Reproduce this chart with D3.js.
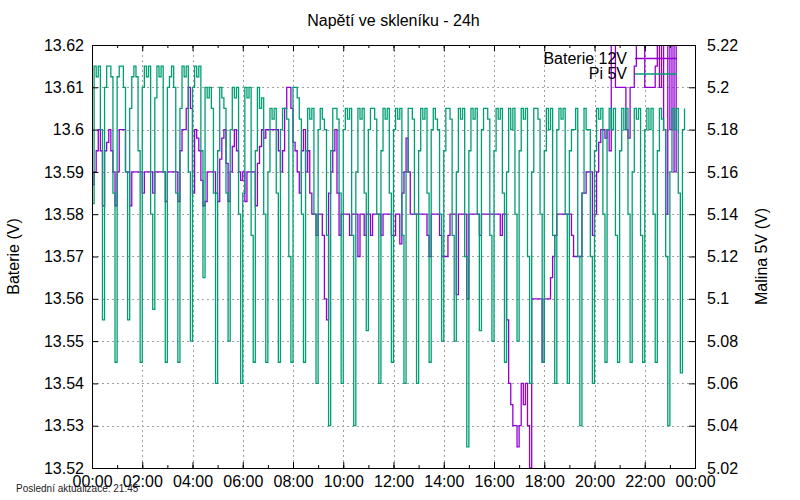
<!DOCTYPE html>
<html>
<head>
<meta charset="utf-8">
<script src="https://cdn.jsdelivr.net/npm/d3@7"></script>
<style>
  body { margin: 0; background: #fff; }
  text { font-family: "Liberation Sans", Arial, sans-serif; }
</style>
</head>
<body>
<div id="main-container"></div>
<script>
// DATA (one sample every 5 minutes from 00:00)
const title = "Napětí ve skleníku - 24h";
const footNote = "Poslední aktualizace: 21:45";
const seriesNames = ["Baterie 12V", "Pi 5V"];
const sampleMinutes = 5;

const leftTicks = [13.52, 13.53, 13.54, 13.55, 13.56, 13.57, 13.58, 13.59, 13.6, 13.61, 13.62];
const rightTicks = [5.02, 5.04, 5.06, 5.08, 5.1, 5.12, 5.14, 5.16, 5.18, 5.2, 5.22];

const baterie12V = [
  13.587, 13.59, 13.595, 13.6, 13.595, 13.582, 13.595, 13.597, 13.6, 13.595, 13.59, 13.582,   // 00
  13.59, 13.6, 13.6, 13.6, 13.59, 13.59, 13.582, 13.59, 13.59, 13.59, 13.59, 13.59,           // 01
  13.585, 13.59, 13.59, 13.59, 13.59, 13.585, 13.59, 13.59, 13.59, 13.59, 13.59, 13.583,      // 02
  13.59, 13.59, 13.59, 13.59, 13.59, 13.583, 13.595, 13.6, 13.6, 13.605, 13.61, 13.605,       // 03
  13.585, 13.6, 13.598, 13.595, 13.588, 13.582, 13.583, 13.59, 13.59, 13.59, 13.59, 13.585,   // 04
  13.583, 13.593, 13.598, 13.6, 13.592, 13.583, 13.59, 13.596, 13.6, 13.595, 13.59, 13.588,   // 05
  13.59, 13.583, 13.59, 13.59, 13.59, 13.59, 13.582, 13.592, 13.596, 13.6, 13.598, 13.6,      // 06
  13.6, 13.6, 13.6, 13.6, 13.6, 13.595, 13.59, 13.595, 13.605, 13.61, 13.61, 13.605,          // 07
  13.597, 13.595, 13.59, 13.585, 13.595, 13.6, 13.59, 13.595, 13.585, 13.58, 13.58, 13.575,   // 08
  13.58, 13.58, 13.575, 13.56, 13.555, 13.585, 13.59, 13.595, 13.6, 13.585, 13.575, 13.58,    // 09
  13.58, 13.58, 13.58, 13.575, 13.58, 13.58, 13.58, 13.57, 13.58, 13.58, 13.575, 13.58,       // 10
  13.58, 13.575, 13.58, 13.58, 13.58, 13.58, 13.575, 13.58, 13.58, 13.58, 13.58, 13.575,      // 11
  13.575, 13.58, 13.58, 13.573, 13.585, 13.59, 13.598, 13.59, 13.58, 13.58, 13.58, 13.58,     // 12
  13.58, 13.58, 13.58, 13.58, 13.575, 13.57, 13.58, 13.58, 13.58, 13.58, 13.575, 13.57,       // 13
  13.57, 13.57, 13.575, 13.58, 13.58, 13.58, 13.561, 13.58, 13.58, 13.58, 13.58, 13.56,       // 14
  13.58, 13.58, 13.58, 13.58, 13.58, 13.575, 13.58, 13.58, 13.58, 13.58, 13.58, 13.58,        // 15
  13.58, 13.58, 13.58, 13.575, 13.58, 13.58, 13.555, 13.54, 13.535, 13.53, 13.53, 13.525,     // 16
  13.53, 13.54, 13.535, 13.54, 13.53, 13.52, 13.56, 13.56, 13.56, 13.56, 13.56, 13.545,       // 17
  13.56, 13.56, 13.56, 13.565, 13.57, 13.575, 13.58, 13.58, 13.58, 13.58, 13.58, 13.58,       // 18
  13.58, 13.575, 13.57, 13.57, 13.57, 13.57, 13.585, 13.585, 13.59, 13.59, 13.59, 13.575,     // 19
  13.58, 13.59, 13.597, 13.6, 13.6, 13.598, 13.6, 13.595, 13.625, 13.63, 13.61, 13.61,        // 20
  13.61, 13.61, 13.61, 13.6, 13.598, 13.61, 13.61, 13.615, 13.625, 13.63, 13.625, 13.62,      // 21
  13.61, 13.61, 13.61, 13.61, 13.61, 13.615, 13.62, 13.61, 13.625, 13.6, 13.58, 13.625,       // 22
  13.6, 13.625, 13.59, 13.625, 13.63, 13.625, 13.63, 13.625                                   // 23
];

const pi5V = [
  5.145, 5.21, 5.205, 5.21, 5.18, 5.09, 5.2, 5.21, 5.21, 5.205, 5.15, 5.07,      // 00
  5.205, 5.21, 5.21, 5.2, 5.16, 5.09, 5.19, 5.205, 5.21, 5.205, 5.17, 5.07,      // 01
  5.2, 5.21, 5.205, 5.21, 5.14, 5.095, 5.195, 5.21, 5.205, 5.21, 5.16, 5.07,     // 02
  5.2, 5.205, 5.21, 5.2, 5.15, 5.07, 5.19, 5.21, 5.205, 5.21, 5.16, 5.08,        // 03
  5.2, 5.21, 5.205, 5.21, 5.17, 5.11, 5.2, 5.195, 5.2, 5.19, 5.15, 5.06,         // 04
  5.17, 5.2, 5.195, 5.19, 5.15, 5.08, 5.18, 5.2, 5.195, 5.2, 5.14, 5.06,         // 05
  5.15, 5.2, 5.195, 5.2, 5.13, 5.07, 5.17, 5.2, 5.19, 5.195, 5.14, 5.07,         // 06
  5.16, 5.19, 5.185, 5.19, 5.15, 5.07, 5.18, 5.19, 5.19, 5.185, 5.12, 5.07,      // 07
  5.2, 5.2, 5.195, 5.185, 5.14, 5.07, 5.17, 5.19, 5.185, 5.19, 5.14, 5.06,       // 08
  5.18, 5.19, 5.185, 5.18, 5.13, 5.04, 5.17, 5.19, 5.19, 5.185, 5.15, 5.06,      // 09
  5.18, 5.19, 5.185, 5.19, 5.13, 5.04, 5.16, 5.19, 5.185, 5.19, 5.15, 5.085,     // 10
  5.18, 5.19, 5.19, 5.185, 5.14, 5.06, 5.17, 5.19, 5.185, 5.19, 5.15, 5.07,      // 11
  5.18, 5.19, 5.185, 5.19, 5.13, 5.06, 5.16, 5.19, 5.19, 5.185, 5.14, 5.06,      // 12
  5.17, 5.19, 5.185, 5.19, 5.15, 5.07, 5.18, 5.19, 5.185, 5.18, 5.14, 5.08,      // 13
  5.17, 5.19, 5.19, 5.185, 5.13, 5.08, 5.16, 5.19, 5.185, 5.19, 5.12, 5.03,      // 14
  5.17, 5.19, 5.185, 5.19, 5.14, 5.085, 5.18, 5.19, 5.19, 5.185, 5.13, 5.08,     // 15
  5.17, 5.19, 5.185, 5.19, 5.15, 5.07, 5.16, 5.19, 5.18, 5.19, 5.14, 5.08,       // 16
  5.17, 5.19, 5.185, 5.19, 5.12, 5.06, 5.16, 5.19, 5.19, 5.185, 5.14, 5.07,      // 17
  5.17, 5.19, 5.18, 5.19, 5.13, 5.06, 5.18, 5.19, 5.185, 5.19, 5.14, 5.06,       // 18
  5.17, 5.18, 5.18, 5.19, 5.12, 5.04, 5.15, 5.19, 5.18, 5.18, 5.12, 5.06,        // 19
  5.17, 5.19, 5.185, 5.19, 5.14, 5.07, 5.18, 5.19, 5.18, 5.19, 5.13, 5.07,       // 20
  5.17, 5.19, 5.18, 5.19, 5.14, 5.07, 5.16, 5.19, 5.185, 5.19, 5.13, 5.07,       // 21
  5.18, 5.19, 5.18, 5.19, 5.14, 5.07, 5.17, 5.19, 5.185, 5.18, 5.12, 5.04,       // 22
  5.16, 5.19, 5.18, 5.19, 5.15, 5.065, 5.18, 5.19                                // 23
];

// CONSTANTS
const margin = {top: 45, right: 105, bottom: 32, left: 92},
    width = 800 - margin.left - margin.right,
    height = 500 - margin.top - margin.bottom;
const colours = ["#9400d3", "#009e73"];

const day0 = new Date(2024, 0, 1, 0, 0);
const day1 = new Date(2024, 0, 2, 0, 0);
const timeAt = (i) => d3.timeMinute.offset(day0, i * sampleMinutes);
const fmtNum = (d) => String(+d.toFixed(3));

// DRAWING SETUP
const root = d3.select("#main-container")
    .append("svg")
        .attr("width", 800)
        .attr("height", 500);

const svg = root.append("g")
    .attr("transform", `translate(${margin.left}, ${margin.top})`);

let xAxis = d3.scaleTime().domain([day0, day1]).range([0, width]);
let yLeft = d3.scaleLinear().domain([13.52, 13.62]).range([height, 0]);
let yRight = d3.scaleLinear().domain([5.02, 5.22]).range([height, 0]);

// grid
const grid = svg.append("g")
    .attr("stroke", "#a0a0a0")
    .attr("stroke-width", 1)
    .attr("stroke-dasharray", "2,3");
grid.selectAll(".gx")
    .data(xAxis.ticks(d3.timeHour.every(2)))
    .enter().append("line")
    .attr("x1", d => Math.round(xAxis(d)) + 0.5).attr("x2", d => Math.round(xAxis(d)) + 0.5)
    .attr("y1", 0).attr("y2", height);
grid.selectAll(".gy")
    .data(leftTicks)
    .enter().append("line")
    .attr("x1", 0).attr("x2", width)
    .attr("y1", d => Math.round(yLeft(d)) + 0.5).attr("y2", d => Math.round(yLeft(d)) + 0.5);

// lines
svg.append("clipPath").attr("id", "plot-clip")
    .append("rect").attr("width", width).attr("height", height);

const plot = svg.append("g").attr("clip-path", "url(#plot-clip)");

const lineLeft = d3.line()
    .x((d, i) => xAxis(timeAt(i)))
    .y(d => yLeft(d))
    .curve(d3.curveStepAfter);
const lineRight = d3.line()
    .x((d, i) => xAxis(timeAt(i)))
    .y(d => yRight(d))
    .curve(d3.curveStepAfter);

plot.append("path")
    .datum(baterie12V)
    .attr("fill", "none")
    .attr("stroke", colours[0])
    .attr("stroke-width", 1.3)
    .attr("d", lineLeft);
plot.append("path")
    .datum(pi5V)
    .attr("fill", "none")
    .attr("stroke", colours[1])
    .attr("stroke-width", 1.3)
    .attr("d", lineRight);

// axes (ticks point inwards like gnuplot)
const styleAxis = (g) => {
    g.select(".domain").remove();
    g.selectAll("line").attr("stroke", "#000");
    g.selectAll("text").attr("fill", "#000").style("font-size", "16px")
        .style("font-family", "'Liberation Sans', Arial, sans-serif");
};

svg.append("g")
    .call(d3.axisLeft(yLeft).tickValues(leftTicks).tickFormat(fmtNum).tickSize(-6).tickPadding(8))
    .call(styleAxis);

svg.append("g")
    .attr("transform", `translate(${width}, 0)`)
    .call(d3.axisRight(yRight).tickValues(rightTicks).tickFormat(fmtNum).tickSize(-6).tickPadding(12))
    .call(styleAxis);

svg.append("g")
    .attr("transform", `translate(0, ${height})`)
    .call(d3.axisBottom(xAxis).ticks(d3.timeHour.every(2)).tickFormat(d3.timeFormat("%H:%M")).tickSize(-6).tickPadding(8))
    .call(styleAxis);

svg.append("g")
    .attr("transform", `translate(0, ${height})`)
    .call(d3.axisBottom(xAxis).ticks(d3.timeHour.every(1)).tickFormat("").tickSize(-3))
    .call(styleAxis);

svg.append("g")
    .call(d3.axisTop(xAxis).ticks(d3.timeHour.every(2)).tickFormat("").tickSize(-6))
    .call(styleAxis);

svg.append("g")
    .call(d3.axisTop(xAxis).ticks(d3.timeHour.every(1)).tickFormat("").tickSize(-3))
    .call(styleAxis);

// border
svg.append("rect")
    .attr("x", 0.5).attr("y", 0.5)
    .attr("width", width).attr("height", height)
    .attr("fill", "none")
    .attr("stroke", "#000")
    .attr("stroke-width", 1);

// legend
const legend = svg.append("g");
seriesNames.forEach((name, i) => {
    const ly = 13 + i * 15.5;
    legend.append("text")
        .attr("x", 535).attr("y", ly)
        .attr("dy", "0.35em")
        .attr("text-anchor", "end")
        .style("font-size", "16px")
        .text(name);
    legend.append("line")
        .attr("x1", 543).attr("x2", 585)
        .attr("y1", ly + 0.5).attr("y2", ly + 0.5)
        .attr("stroke", colours[i])
        .attr("stroke-width", 1.3);
});

// titles
root.append("text")
    .attr("x", margin.left + width / 2).attr("y", 26)
    .attr("text-anchor", "middle")
    .style("font-size", "16px")
    .text(title);

root.append("text")
    .attr("transform", `translate(19, ${margin.top + height / 2}) rotate(-90)`)
    .attr("text-anchor", "middle")
    .style("font-size", "16px")
    .text("Baterie (V)");

root.append("text")
    .attr("transform", `translate(767, ${margin.top + height / 2}) rotate(-90)`)
    .attr("text-anchor", "middle")
    .style("font-size", "16px")
    .text("Malina 5V (V)");

root.append("text")
    .attr("x", 16).attr("y", 492)
    .style("font-size", "10px")
    .attr("fill", "#222")
    .text(footNote);
</script>
</body>
</html>
